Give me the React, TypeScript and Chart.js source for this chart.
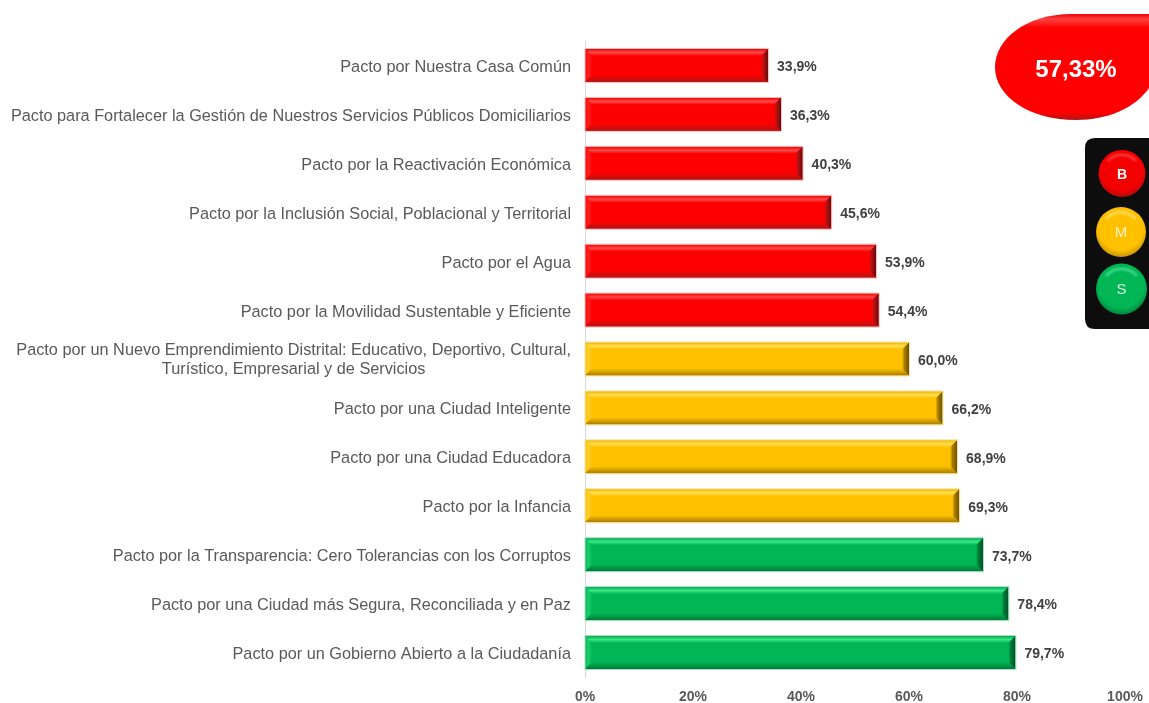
import React, { useEffect, useRef } from "react";
import { Chart, registerables } from "chart.js";

Chart.register(...registerables);

const categories: (string | string[])[] = [
  "Pacto por Nuestra Casa Común",
  "Pacto para Fortalecer la Gestión de Nuestros Servicios Públicos Domiciliarios",
  "Pacto por la Reactivación Económica",
  "Pacto por la Inclusión Social, Poblacional y Territorial",
  "Pacto por el Agua",
  "Pacto por la Movilidad Sustentable y Eficiente",
  ["Pacto por un Nuevo Emprendimiento Distrital: Educativo, Deportivo, Cultural,", "Turístico, Empresarial y de Servicios"],
  "Pacto por una Ciudad Inteligente",
  "Pacto por una Ciudad Educadora",
  "Pacto por la Infancia",
  "Pacto por la Transparencia: Cero Tolerancias con los Corruptos",
  "Pacto por una Ciudad más Segura, Reconciliada y en Paz",
  "Pacto por un Gobierno Abierto a la Ciudadanía",
];
const values = [33.9, 36.3, 40.3, 45.6, 53.9, 54.4, 60.0, 66.2, 68.9, 69.3, 73.7, 78.4, 79.7];
const levels = ["B", "B", "B", "B", "B", "B", "M", "M", "M", "M", "S", "S", "S"];
const totalLabel = "57,33%";
const FONT = "'Liberation Sans', Arial, sans-serif";
const LABEL_SIZE = 16.3;

const palette: Record<string, { base: string; hi: string; soft: string; edge: string; low: string; side: string; halo: string }> = {
  B: { base: "#ff0000", hi: "#ff4a4a", soft: "#ff2222", edge: "#f00000", low: "#b01414", side: "#6e0808", halo: "#f7c0c0" },
  M: { base: "#ffc000", hi: "#ffe050", soft: "#ffcf30", edge: "#f0b400", low: "#a67c00", side: "#6e5200", halo: "#f5e2a8" },
  S: { base: "#00b655", hi: "#38e88a", soft: "#1ccc6e", edge: "#00a84c", low: "#007a38", side: "#005226", halo: "#a8dfc0" },
};

const comma = (v: number) => v.toFixed(1).replace(".", ",") + "%";

const bevelPlugin = {
  id: "bevel",
  afterDatasetsDraw(chart: any) {
    const ctx: CanvasRenderingContext2D = chart.ctx;
    chart.getDatasetMeta(0).data.forEach((bar: any, i: number) => {
      const p = palette[levels[i]];
      const l = bar.base, r = bar.x, t = bar.y - bar.height / 2, b = bar.y + bar.height / 2;
      const d = 7;
      ctx.save();
      ctx.fillStyle = p.base;
      ctx.fillRect(l, t, r - l, b - t);
      const left = ctx.createLinearGradient(l, 0, l + d, 0);
      left.addColorStop(0, p.base);
      left.addColorStop(0.5, p.soft);
      left.addColorStop(1, p.base);
      ctx.fillStyle = left;
      ctx.beginPath();
      ctx.moveTo(l, t); ctx.lineTo(l, b); ctx.lineTo(l + d, b - d); ctx.lineTo(l + d, t + d); ctx.closePath();
      ctx.fill();
      const top = ctx.createLinearGradient(0, t, 0, t + d);
      top.addColorStop(0, p.edge);
      top.addColorStop(0.5, p.hi);
      top.addColorStop(1, p.base);
      ctx.fillStyle = top;
      ctx.beginPath();
      ctx.moveTo(l, t); ctx.lineTo(r, t); ctx.lineTo(r - d, t + d); ctx.lineTo(l + d, t + d); ctx.closePath();
      ctx.fill();
      const bot = ctx.createLinearGradient(0, b - d, 0, b);
      bot.addColorStop(0, p.base);
      bot.addColorStop(1, p.low);
      ctx.fillStyle = bot;
      ctx.beginPath();
      ctx.moveTo(l, b); ctx.lineTo(r, b); ctx.lineTo(r - d, b - d); ctx.lineTo(l + d, b - d); ctx.closePath();
      ctx.fill();
      const side = ctx.createLinearGradient(r - d, 0, r, 0);
      side.addColorStop(0, p.base);
      side.addColorStop(0.35, p.low);
      side.addColorStop(1, p.side);
      ctx.fillStyle = side;
      ctx.beginPath();
      ctx.moveTo(r, t); ctx.lineTo(r, b); ctx.lineTo(r - d, b - d); ctx.lineTo(r - d, t + d); ctx.closePath();
      ctx.fill();
      ctx.strokeStyle = p.halo;
      ctx.lineWidth = 1;
      ctx.strokeRect(l, t - 0.5, r - l + 0.5, b - t + 1);
      ctx.restore();

      ctx.save();
      ctx.font = `bold 14px ${FONT}`;
      ctx.fillStyle = "#404040";
      ctx.textAlign = "left";
      ctx.textBaseline = "middle";
      ctx.fillText(comma(values[i]), r + 9, bar.y + 2);
      ctx.restore();
    });
  },
  afterDraw(chart: any) {
    const yScale = chart.scales.y;
    const ctx: CanvasRenderingContext2D = chart.ctx;
    categories.forEach((c, i) => {
      if (!Array.isArray(c)) return;
      const y = yScale.getPixelForTick(i);
      ctx.save();
      ctx.font = `${LABEL_SIZE}px ${FONT}`;
      ctx.fillStyle = "#595959";
      ctx.textBaseline = "middle";
      ctx.textAlign = "center";
      const cx = 571 - ctx.measureText(c[0]).width / 2;
      ctx.fillText(c[0], cx, y - 8);
      ctx.fillText(c[1], cx, y + 11);
      ctx.restore();
    });
  },
};

function Badge() {
  return (
    <svg width={1149} height={703} style={{ position: "absolute", left: 0, top: 0, pointerEvents: "none", filter: "blur(0.4px)" }}>
      <defs>
        <linearGradient id="badge" x1="0" y1="0" x2="0" y2="1">
          <stop offset="0" stopColor="#f00000" />
          <stop offset="0.05" stopColor="#ff4040" />
          <stop offset="0.13" stopColor="#ff0000" />
          <stop offset="0.93" stopColor="#ff0000" />
          <stop offset="1" stopColor="#b01414" />
        </linearGradient>
        <radialGradient id="rB" cx="0.5" cy="0.42" r="0.62">
          <stop offset="0.72" stopColor="#f40000" />
          <stop offset="1" stopColor="#9a1010" />
        </radialGradient>
        <radialGradient id="rM" cx="0.5" cy="0.42" r="0.62">
          <stop offset="0.72" stopColor="#ffc000" />
          <stop offset="1" stopColor="#b88a00" />
        </radialGradient>
        <radialGradient id="rS" cx="0.5" cy="0.42" r="0.62">
          <stop offset="0.72" stopColor="#00b655" />
          <stop offset="1" stopColor="#007a38" />
        </radialGradient>
        <filter id="soft" x="-20%" y="-20%" width="140%" height="140%">
          <feGaussianBlur stdDeviation="1.2" />
        </filter>
      </defs>
      <path d="M1149 14 L1072 14 C1025 14 995 40 995 67 C995 97 1030 120 1076 120 C1108 120 1135 108 1149 88 Z" fill="url(#badge)" />
      <text x={1076} y={76.5} textAnchor="middle" fontFamily={FONT} fontWeight="bold" fontSize={24} fill="#ffffff">{totalLabel}</text>
      <path d="M1149 138 L1095 138 Q1085 138 1085 148 L1085 319 Q1085 329 1095 329 L1149 329 Z" fill="#0d0d0d" />
      <circle cx={1122} cy={173.5} r={23.5} fill="url(#rB)" />
      <circle cx={1121} cy={232} r={25} fill="url(#rM)" />
      <circle cx={1121.5} cy={289} r={25.5} fill="url(#rS)" />
      <path d="M1108 161 A19 19 0 0 1 1136 161" fill="none" stroke="#ff6a6a" strokeWidth={2.5} opacity={0.6} filter="url(#soft)" />
      <path d="M1106 219 A20 20 0 0 1 1136 219" fill="none" stroke="#ffe680" strokeWidth={2.5} opacity={0.8} filter="url(#soft)" />
      <path d="M1106 276 A20 20 0 0 1 1137 276" fill="none" stroke="#60f0a8" strokeWidth={2.5} opacity={0.7} filter="url(#soft)" />
      <text x={1122} y={178.5} textAnchor="middle" fontFamily={FONT} fontWeight="bold" fontSize={14} fill="#ffffff">B</text>
      <text x={1121} y={237} textAnchor="middle" fontFamily={FONT} fontSize={15} fill="#fff2c0">M</text>
      <text x={1121.5} y={294} textAnchor="middle" fontFamily={FONT} fontSize={15} fill="#d8f5e5">S</text>
    </svg>
  );
}

export default function App() {
  const ref = useRef<HTMLCanvasElement | null>(null);
  useEffect(() => {
    if (!ref.current) return;
    const chart = new Chart(ref.current, {
      type: "bar",
      data: {
        labels: categories as any,
        datasets: [
          {
            data: values,
            backgroundColor: levels.map((l) => palette[l].base),
            categoryPercentage: 1,
            barPercentage: 0.675,
          },
        ],
      },
      plugins: [bevelPlugin],
      options: {
        indexAxis: "y",
        responsive: false,
        animation: false,
        layout: { padding: { top: 41, right: 24, left: 0, bottom: 0 } },
        plugins: { legend: { display: false }, tooltip: { enabled: false } },
        scales: {
          x: {
            min: 0,
            max: 100,
            afterFit(s: any) { s.height = 26; s.paddingLeft = 0; s.paddingRight = 0; },
            grid: { display: false, drawTicks: false },
            border: { display: false },
            ticks: {
              stepSize: 20,
              maxRotation: 0,
              padding: 12,
              color: "#595959",
              font: { family: FONT, size: 14, weight: "bold" },
              callback: (v: any) => `${v}%`,
            },
          },
          y: {
            afterFit(s: any) { s.width = 585; },
            grid: { display: false, drawTicks: false },
            border: { display: true, color: "#d9d9d9", width: 1 },
            ticks: {
              padding: 14,
              autoSkip: false,
              labelOffset: 2,
              color: "#595959",
              font: { family: FONT, size: LABEL_SIZE },
              callback: (_v: any, i: number) => (Array.isArray(categories[i]) ? "" : (categories[i] as string)),
            },
          },
        },
      } as any,
    });
    return () => chart.destroy();
  }, []);
  return (
    <div style={{ position: "fixed", left: 0, top: 0, width: 1149, height: 703, background: "#fff", overflow: "hidden" }}>
      <canvas ref={ref} width={1149} height={703} style={{ display: "block", filter: "blur(0.4px)" }} />
      <Badge />
    </div>
  );
}
